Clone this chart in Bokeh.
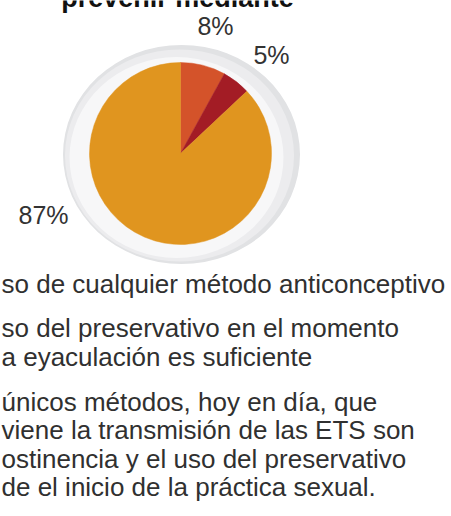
from math import pi
from bokeh.plotting import figure
from bokeh.models import Range1d, ColumnDataSource
from bokeh.core.properties import value
from bokeh.embed import file_html
from bokeh.resources import INLINE

# ---- data ----
slice_labels = ["8%", "5%", "87%"]
slice_values = [8, 5, 87]
slice_colors = ["#D4532A", "#A31C25", "#E0951F"]

title_text = "prevenir mediante"
legend_lines = [
    "so de cualquier método anticonceptivo",
    "so del preservativo en el momento",
    "a eyaculación es suficiente",
    "únicos métodos, hoy en día, que",
    "viene la transmisión de las ETS son",
    "ostinencia y el uso del preservativo",
    "de el inicio de la práctica sexual.",
]

W, H = 451, 516


def fy(y):
    # pixel row (from top) -> data y
    return H - y


p = figure(width=W, height=H, output_backend="svg", toolbar_location=None,
           x_range=Range1d(0, W), y_range=Range1d(0, H),
           min_border=0, outline_line_color=None, background_fill_color="white",
           border_fill_color="white")
p.axis.visible = False
p.grid.visible = False

# backdrop disc (soft shading)
p.ellipse(x=[181], y=[fy(154)], width=237, height=219, width_units="screen",
          height_units="screen", fill_color="#e1e2e4", line_color=None)
p.ellipse(x=[179], y=[fy(155)], width=229, height=212, width_units="screen",
          height_units="screen", fill_color="#ececee", line_color=None)
p.ellipse(x=[176], y=[fy(157)], width=214, height=201, width_units="screen",
          height_units="screen", fill_color="#f7f7f8", line_color=None)

# pie wedges, clockwise from 12 o'clock
total = float(sum(slice_values))
starts, ends = [], []
acc = 0.0
for v in slice_values:
    a0 = pi / 2 - 2 * pi * acc / total
    acc += v
    a1 = pi / 2 - 2 * pi * acc / total
    starts.append(a0)
    ends.append(a1)

src = ColumnDataSource(dict(x=[180] * 3, y=[fy(153)] * 3, start=starts, end=ends,
                            color=slice_colors))
p.wedge(x="x", y="y", radius=91, radius_units="screen", start_angle="start",
        end_angle="end", direction="clock", fill_color="color", line_color="color",
        line_width=0.5, source=src)

# percentage labels
lab_x = [215, 271, 43]
lab_y = [fy(25), fy(54), fy(214)]
p.text(x=lab_x, y=lab_y, text=slice_labels, text_font=value("Liberation Sans"),
       text_font_size="25px", text_color="#333333", text_align="center",
       text_baseline="middle")

# cut-off title at the top edge
p.text(x=[177], y=[fy(-3)], text=[title_text], text_font=value("Liberation Sans"),
       text_font_size="27px", text_font_style="bold", text_color="#111111",
       text_align="center", text_baseline="middle")

# legend text lines (cut at left edge)
mid_rows = [283, 327, 356, 401, 429, 458, 486]
p.text(x=[1] * len(legend_lines), y=[fy(r) for r in mid_rows], text=legend_lines,
       text_font=value("Liberation Sans"), text_font_size="26px",
       text_color="#303030", text_align="left", text_baseline="middle")

open("out.html", "w").write(file_html(p, INLINE))
